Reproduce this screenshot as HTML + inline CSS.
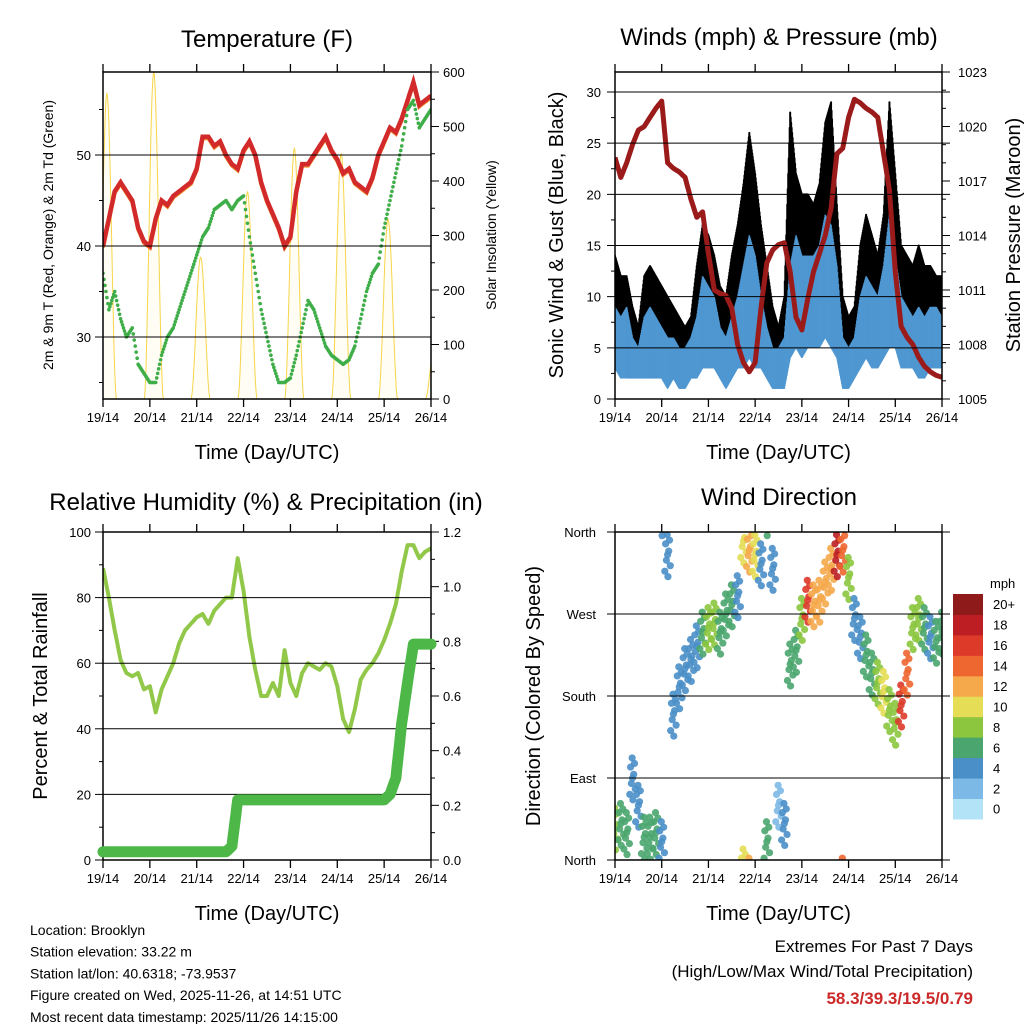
<!DOCTYPE html>
<html><head><meta charset="utf-8"><style>
body{margin:0;background:#fff;}
svg{display:block;font-family:"Liberation Sans",Arial,sans-serif;}
</style></head><body>
<svg id="c" width="1024" height="1024" viewBox="0 0 1024 1024" xmlns="http://www.w3.org/2000/svg"></svg>
<script>
// ---- data (3-hourly, t = 0..168 h from 19/14 UTC) ----
const dayLabels = ["19/14","20/14","21/14","22/14","23/14","24/14","25/14","26/14"];
const tempF = [40,43,46,47,46,45,42,40.5,40,43,45,44.5,45.5,46,46.5,47,48.5,52,52,51,51.5,50,49,48.5,50.5,51.5,50,47,45,43.5,42,40,41,46,49,49,50,51,52,50.5,49.5,48,48.5,47,46.5,46,47.5,50,51.5,53,52.5,54,56,58,55.5,56,56.5];
const dewF = [37,33,35,32,30,31,27,26,25,25,28,30,31,33,35,37,39,41,42,44,44.5,45,44,45,45.5,41,37,33,30,27,25,25,25.5,28,31,34,33,31,29,28,27.5,27,27.5,29,32,35,37,38,42,45,48,51,55,56,53,54,55];
const solarPeak = [560,600,260,380,460,450,330,100];
const windLo = [3,2,2,2,2,2,2,2,2,1,2,1,1,2,2,3,3,3,2,1,2,3,3,4,3,3,2,1,1,1,4,5,4,5,5,5,6,5,4,1,1,2,3,4,3,3,4,5,5,3,3,3,2,2,3,3,3];
const windHi = [9,8,9,6,5,8,9,8,7,6,6,5,5,6,8,12,11,10,7,6,8,10,13,16,14,10,7,5,5,6,13,16,14,14,14,15,18,17,13,6,5,6,10,12,11,10,13,18,14,10,9,8,9,8,9,9,8];
const gustLo = [8,7,6,5,4,6,7,6,6,5,5,4,3,4,6,8,8,8,5,4,6,7,9,10,9,8,5,3,3,4,10,12,11,10,9,11,12,11,9,4,4,4,7,8,8,7,9,11,10,7,7,6,6,6,7,7,7];
const gustHi = [14,12,12,9,7,12,13,12,11,10,9,8,7,8,13,17,16,14,11,10,14,17,21,26,22,17,13,9,7,10,28,22,20,20,19,21,27,29,19,10,8,9,15,18,16,14,18,29,22,15,14,13,15,13,13,12,12];
const pressMb = [1018.3,1017.2,1018,1019,1019.8,1020,1020.5,1021,1021.4,1018,1017.7,1017.5,1017.2,1016,1015,1015.3,1013,1011,1010.8,1010.7,1010,1008,1007,1006.5,1007,1010,1012.5,1013.2,1013.5,1013.6,1012,1009.5,1008.8,1010.5,1012,1013,1014,1015.5,1018.5,1018.8,1020.5,1021.5,1021.3,1021,1020.8,1020.5,1018.5,1016.5,1012,1009,1008.4,1008,1007.3,1006.8,1006.5,1006.3,1006.2];
const rhPct = [89,80,70,61,57,56,57,52,53,45,52,56,60,66,70,72,74,75,72,76,78,80,80,92,82,68,58,50,50,54,50,64,54,50,57,60,59,58,60,59,53,43,39,46,55,58,60,63,67,72,78,88,96,96,92,94,95];
const rainIn = [0.03,0.03,0.03,0.03,0.03,0.03,0.03,0.03,0.03,0.03,0.03,0.03,0.03,0.03,0.03,0.03,0.03,0.03,0.03,0.03,0.03,0.03,0.05,0.22,0.22,0.22,0.22,0.22,0.22,0.22,0.22,0.22,0.22,0.22,0.22,0.22,0.22,0.22,0.22,0.22,0.22,0.22,0.22,0.22,0.22,0.22,0.22,0.22,0.22,0.24,0.3,0.5,0.65,0.79,0.79,0.79,0.79];
const windDir = [35,40,30,90,60,25,25,30,20,335,160,190,210,220,235,250,255,260,250,270,280,290,350,340,335,325,20,320,60,40,215,230,265,285,280,285,305,320,335,340,310,265,245,225,205,195,185,165,150,170,205,255,265,255,245,240,250];
const windSpd = [7,6,6,4,4,5,6,5,4,3,4,4,4,4,4,6,7,7,6,6,5,4,10,12,10,4,6,3,2,3,5,6,8,16,11,11,11,12,18,14,8,4,4,5,6,8,9,8,7,15,14,8,8,6,4,5,6];
const spdColors = ["#b3e3f7","#7db9e6","#4a8fc8","#4aa66e","#8cc63f","#e4dd55","#f5a94a","#ee6630","#dd3a2a","#bd1e24","#8e1a1a"];
const spdLabels = ["0","2","4","6","8","10","12","14","16","18","20+"];

const svg = document.getElementById('c');
const NS = "http://www.w3.org/2000/svg";
function mk(tag, attrs, parent){const e=document.createElementNS(NS,tag);for(const k in attrs)e.setAttribute(k,attrs[k]);(parent||svg).appendChild(e);return e;}
function txt(s,x,y,size,anchor,name,extra,parent){const e=mk('text',Object.assign({x:x,y:y,'font-size':size,'text-anchor':anchor||'middle',fill:'#000'},extra||{}),parent);e.textContent=s;return e;}
const T = i=>i*3;
function interp(arr,t){const f=t/3,i=Math.min(Math.floor(f),arr.length-2),r=f-i;return arr[i]*(1-r)+arr[i+1]*r;}

function panel(id,x0,x1,y0,y1){
  const g=mk('g',{});
  
  
  const cp=mk('clipPath',{id:id+'-clip'},g);mk('rect',{x:x0,y:y0,width:x1-x0,height:y1-y0},cp);
  const xs=t=>x0+(x1-x0)*t/168;
  for(let d=0;d<8;d++){const x=xs(d*24);
    mk('line',{x1:x,x2:x,y1:y1,y2:y1+8,stroke:'#000','stroke-width':1.3},g);
    mk('line',{x1:x,x2:x,y1:y0,y2:y0-8,stroke:'#000','stroke-width':1.3},g);
    txt(dayLabels[d],x,y1+23,13,'middle','x-tick-label',{},g);
  }
  txt("Time (Day/UTC)",(x0+x1)/2,y1+60,20,'middle','x-axis-title',{},g);
  const data=mk('g',{'clip-path':'url(#'+id+'-clip)'},g);
  return {g,data,xs};
}
function frame(g,x0,x1,y0,y1){const r=mk('rect',{x:x0,y:y0,width:x1-x0,height:y1-y0,fill:'none',stroke:'#000','stroke-width':1.5},g);}
function hgrid(g,y,x0,x1,ext){mk('line',{x1:x0-ext,x2:x1+(ext>0?ext:0),y1:y,y2:y,stroke:'#000','stroke-width':1},g);}
function ytick(g,x,y,len){mk('line',{x1:x,x2:x+len,y1:y,y2:y,stroke:'#000','stroke-width':1},g);}
function pathFrom(arr,xs,ys,step){let d='';for(let t=0;t<=168;t+=step){const v=interp(arr,t);d+=(d?'L':'M')+xs(t).toFixed(1)+','+ys(v).toFixed(1);}return d;}

// ===== Panel 1: Temperature =====
(function(){
  const x0=103,x1=431,y0=72,y1=399;
  const p=panel('temperature-panel',x0,x1,y0,y1);
  txt("Temperature (F)",267,47,24,'middle','temperature-title',{},p.g);
  const yT=v=>246-(v-40)*9.1;
  const yS=v=>399-v*327/600;
  [30,40,50].forEach(v=>{hgrid(p.g,yT(v),x0,x1,0);ytick(p.g,x0,yT(v),-8);txt(String(v),x0-12,yT(v)+5,13,'end','y-tick-label',{},p.g);});
  [25,35,45,55].forEach(v=>ytick(p.g,x0,yT(v),-4));
  for(let v=0;v<=600;v+=50){ytick(p.g,x1,yS(v),v%100?4:8);if(v%100===0)txt(String(v),x1+12,yS(v)+5,13,'start','y2-tick-label',{},p.g);}
  txt("2m & 9m T (Red, Orange) & 2m Td (Green)",0,0,14,'middle','y-axis-title',{transform:'translate(53,235) rotate(-90)'},p.g);
  txt("Solar Insolation (Yellow)",0,0,14,'middle','y2-axis-title',{transform:'translate(496,235) rotate(-90)'},p.g);
  solarPeak.forEach((pk,d)=>{let s='';for(let h=-5;h<=5;h+=0.25){const t=d*24+2+h;const v=pk*Math.cos(h/5*Math.PI/2)**2;s+=(s?'L':'M')+p.xs(t).toFixed(1)+','+yS(v).toFixed(1);}
    const e=mk('path',{d:s,fill:'#fff6c8','fill-opacity':0.2,stroke:'#f7d54a','stroke-width':1},p.data);
    });
  const o=mk('path',{d:pathFrom(tempF,p.xs,v=>yT(v)+1.5,1),fill:'none',stroke:'#f08a30','stroke-width':4},p.data);
  
  const r=mk('path',{d:pathFrom(tempF,p.xs,yT,1),fill:'none',stroke:'#d22a2a','stroke-width':4.5},p.data);
  
  for(let t=0;t<=168;t+=0.5){const c=mk('circle',{cx:p.xs(t),cy:yT(interp(dewF,t)),r:1.8,fill:'#3fae49'},p.data);
    }
  frame(p.g,x0,x1,y0,y1);
})();

// ===== Panel 2: Winds & Pressure =====
(function(){
  const x0=615,x1=942,y0=72,y1=399;
  const p=panel('winds-panel',x0,x1,y0,y1);
  txt("Winds (mph) & Pressure (mb)",779,45,24,'middle','winds-title',{},p.g);
  const yW=v=>399-v*307/30;
  const yP=v=>399-(v-1005)*327/18;
  for(let v=0;v<=30;v+=5){hgrid(p.g,yW(v),x0,x1,8);txt(String(v),x0-14,yW(v)+5,13,'end','y-tick-label',{},p.g);}
  for(let v=0;v<=32;v+=2.5){if(v%5)ytick(p.g,x0,yW(v),-4);}
  for(let v=1005;v<=1023;v++){ytick(p.g,x1,yP(v),(v-1005)%3?4:8);if((v-1005)%3===0)txt(String(v),x1+16,yP(v)+5,13,'start','y2-tick-label',{},p.g);}
  txt("Sonic Wind & Gust (Blue, Black)",0,0,20,'middle','y-axis-title',{transform:'translate(563,235) rotate(-90)'},p.g);
  txt("Station Pressure (Maroon)",0,0,20,'middle','y2-axis-title',{transform:'translate(1020,235) rotate(-90)'},p.g);
  for(let t=0;t<=168;t+=0.25){const x=p.xs(t);
    const l=mk('line',{x1:x,x2:x,y1:yW(interp(gustLo,t)),y2:yW(interp(gustHi,t)),stroke:'#000','stroke-width':2,'stroke-linecap':'round'},p.data);
    }
  for(let t=0;t<=168;t+=0.25){const x=p.xs(t);
    const l=mk('line',{x1:x,x2:x,y1:yW(interp(windLo,t)),y2:yW(interp(windHi,t)),stroke:'#4f97d1','stroke-width':1.6},p.data);
    }
  const pr=mk('path',{d:pathFrom(pressMb,p.xs,yP,1),fill:'none',stroke:'#9b1b1b','stroke-width':5,'stroke-linejoin':'round'},p.data);
  
  frame(p.g,x0,x1,y0,y1);
})();

// ===== Panel 3: RH & Precip =====
(function(){
  const x0=103,x1=431,y0=532,y1=860;
  const p=panel('humidity-panel',x0,x1,y0,y1);
  txt("Relative Humidity (%) & Precipitation (in)",266,510,24,'middle','humidity-title',{},p.g);
  const yR=v=>860-v*3.28;
  const yI=v=>860-v*328/1.2;
  for(let v=0;v<=100;v+=20){if(v>0&&v<100)hgrid(p.g,yR(v),x0,x1,0);ytick(p.g,x0,yR(v),-8);txt(String(v),x0-12,yR(v)+5,13,'end','y-tick-label',{},p.g);}
  for(let v=10;v<100;v+=20)ytick(p.g,x0,yR(v),-4);
  for(let v=0;v<=12;v++){ytick(p.g,x1,yI(v/10),v%2?4:8);if(v%2===0)txt((v/10).toFixed(1),x1+12,yI(v/10)+5,13,'start','y2-tick-label',{},p.g);}
  txt("Percent & Total Rainfall",0,0,20,'middle','y-axis-title',{transform:'translate(47,696) rotate(-90)'},p.g);
  const rn=mk('path',{d:pathFrom(rainIn,p.xs,yI,0.5),fill:'none',stroke:'#4db848','stroke-width':11,'stroke-linecap':'round','stroke-linejoin':'round'},svg);
  
  const rh=mk('path',{d:pathFrom(rhPct,p.xs,yR,1),fill:'none',stroke:'#92c84a','stroke-width':4,'stroke-linejoin':'round'},p.data);
  
  frame(p.g,x0,x1,y0,y1);
})();

// ===== Panel 4: Wind direction =====
(function(){
  const x0=615,x1=942,y0=532,y1=860;
  const p=panel('wind-direction-panel',x0,x1,y0,y1);
  txt("Wind Direction",779,505,24,'middle','wind-direction-title',{},p.g);
  const yD=v=>860-v*328/360;
  const names=["North","East","South","West","North"];
  names.forEach((n,i)=>{const y=yD(i*90);hgrid(p.g,y,x0,x1,8);txt(n,x0-19,y+5,13,'end','y-tick-label',{},p.g);});
  txt("Direction (Colored By Speed)",0,0,20,'middle','y-axis-title',{transform:'translate(540,696) rotate(-90)'},p.g);
  const dts=[-1.4,-1.0,-0.6,-0.2,0.2,0.6,1.0,1.4,0];const dds=[-18,12,-6,22,-24,4,16,-12,0];
  windDir.forEach((d,i)=>{const s=windSpd[i];const ci=Math.min(10,Math.round(s/2));
    for(let k=0;k<dts.length;k++){const t=T(i)+dts[k];let dd=(d+dds[k]+360)%360;
      const c=mk('circle',{cx:p.xs(t),cy:yD(dd),r:3.6,fill:spdColors[ci],'fill-opacity':0.9},p.data);
      }});
  frame(p.g,x0,x1,y0,y1);
  const cb=mk('g',{});
  const bh=20.45;
  for(let k=0;k<11;k++){const y=594+(10-k)*bh;mk('rect',{x:953,y:y,width:30,height:bh+0.5,fill:spdColors[k]},cb);
    txt(spdLabels[k],993,y+bh/2+5,13,'start','colorbar-label',{},cb);}
  txt("mph",990,588,13,'start','colorbar-title',{},cb);
})();

// ===== footer text =====
const info=["Location: Brooklyn","Station elevation: 33.22 m","Station lat/lon: 40.6318; -73.9537","Figure created on Wed, 2025-11-26, at 14:51 UTC","Most recent data timestamp: 2025/11/26 14:15:00"];
info.forEach((s,i)=>txt(s,30,935+i*21.7,14,'start','station-info-line'));
txt("Extremes For Past 7 Days",973,952,17,'end','extremes-title');
txt("(High/Low/Max Wind/Total Precipitation)",973,977,17,'end','extremes-subtitle');
txt("58.3/39.3/19.5/0.79",973,1004,17,'end','extremes-values',{fill:'#cc2a2a','font-weight':'bold'});
</script>
</body></html>
